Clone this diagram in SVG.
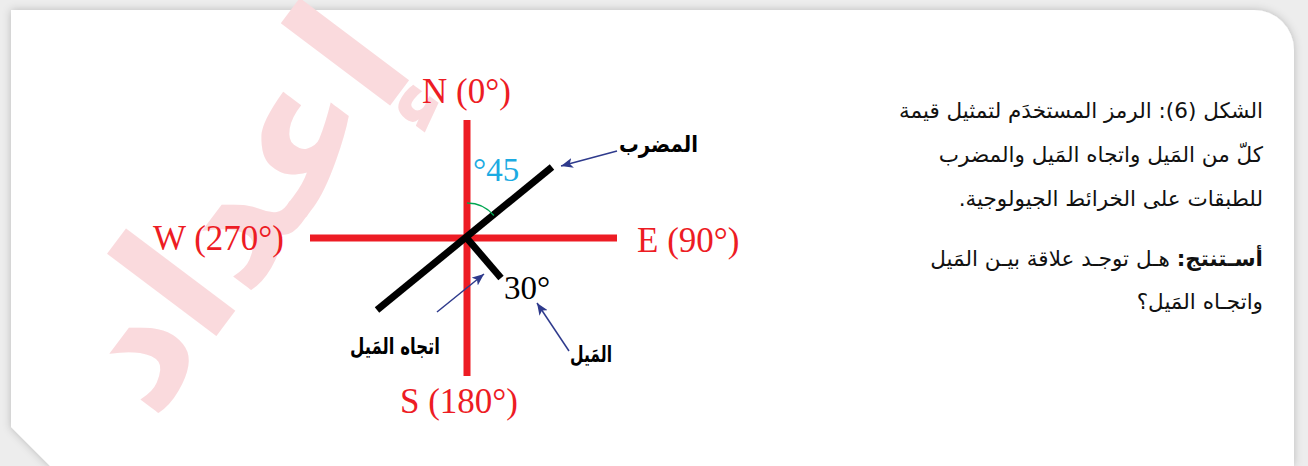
<svg xmlns="http://www.w3.org/2000/svg" width="1308" height="466" viewBox="0 0 1308 466">
  <defs>
    <filter id="shadow" x="-5%" y="-5%" width="110%" height="115%">
      <feDropShadow dx="0" dy="0" stdDeviation="4" flood-color="#000" flood-opacity="0.22"/>
    </filter>
    <marker id="arrow" markerUnits="userSpaceOnUse" markerWidth="14" markerHeight="10" refX="12" refY="5" orient="auto">
      <path d="M0,0 L12,5 L0,10 L3,5 Z" fill="#2e3a8c"/>
    </marker>
    <style>
      .compass { font-family: "Liberation Serif", serif; font-size: 35px; fill: #ed1c24; }
      .axis { stroke: #ed1c24; stroke-width: 7; fill: none; }
      .bar { stroke: #000; stroke-width: 7; fill: none; }
      .lead { stroke: #2e3a8c; stroke-width: 1.5; fill: none; marker-end: url(#arrow); }
      .ar { font-family: "DejaVu Sans", sans-serif; direction: rtl; }
      .lbl { font-family: "DejaVu Sans", sans-serif; font-size: 23px; font-weight: bold; fill: #000; }
      .para { font-family: "DejaVu Sans", sans-serif; font-size: 21.5px; fill: #111; }
    </style>
  </defs>

  <!-- page background and card -->
  <rect x="0" y="0" width="1308" height="466" fill="#ededed"/>
  <path d="M11,10 H1254 A40,40 0 0 1 1294,50 V466 H50 L11,427 Z" fill="#ffffff" filter="url(#shadow)"/>

  <!-- watermark -->
  <text class="ar" transform="translate(285,245) rotate(-53)" text-anchor="middle" font-size="180" font-weight="bold" fill="#fadadd" direction="rtl">إعداد</text>

  <!-- compass axes -->
  <g id="axes">
    <line class="axis" x1="467" y1="120" x2="467" y2="376"/>
    <line class="axis" x1="310" y1="238" x2="617" y2="238"/>
  </g>

  <g id="label-n"><text class="compass" x="422" y="103">N (0°)</text></g>
  <g id="label-e"><text class="compass" x="637" y="252">E (90°)</text></g>
  <g id="label-w"><text class="compass" x="153" y="250">W (270°)</text></g>
  <g id="label-s"><text class="compass" x="400" y="413">S (180°)</text></g>

  <!-- strike and dip symbol -->
  <g id="symbol">
    <line class="bar" x1="377" y1="310" x2="552" y2="167"/>
    <line class="bar" x1="465" y1="236" x2="501" y2="278"/>
    <path d="M467,203 A35,35 0 0 1 493.9,215.5" fill="none" stroke="#00a651" stroke-width="1.4"/>
  </g>

  <g id="angle-45"><text x="473" y="181" font-family="Liberation Serif, serif" font-size="33" fill="#1cabe2">°45</text></g>
  <g id="angle-30"><text x="504" y="299" font-family="Liberation Serif, serif" font-size="33" fill="#000">30°</text></g>

  <!-- connectors -->
  <g id="connectors">
    <line class="lead" x1="617" y1="151" x2="561" y2="166"/>
    <line class="lead" x1="437" y1="312" x2="484" y2="274"/>
    <line class="lead" x1="569" y1="351" x2="537" y2="303"/>
  </g>

  <g id="label-strike"><text class="lbl" x="698" y="152" direction="rtl" text-anchor="start" textLength="79" lengthAdjust="spacingAndGlyphs">المضرب</text></g>
  <g id="label-dipdir"><text class="lbl" x="440" y="354" direction="rtl" text-anchor="start" textLength="90" lengthAdjust="spacingAndGlyphs">اتجاه المَيل</text></g>
  <g id="label-dip"><text class="lbl" x="612" y="362" direction="rtl" text-anchor="start" textLength="42" lengthAdjust="spacingAndGlyphs">المَيل</text></g>

  <!-- caption -->
  <g id="caption">
    <text class="para" x="1263" y="118" direction="rtl" text-anchor="start">الشكل (6): الرمز المستخدَم لتمثيل قيمة</text>
    <text class="para" x="1263" y="162" direction="rtl" text-anchor="start">كلّ من المَيل واتجاه المَيل والمضرب</text>
    <text class="para" x="1263" y="206" direction="rtl" text-anchor="start">للطبقات على الخرائط الجيولوجية.</text>
    <text class="para" x="1263" y="266" direction="rtl" text-anchor="start"><tspan font-weight="bold">أسـتنتج:</tspan> هـل توجـد علاقة بيـن المَيل</text>
    <text class="para" x="1263" y="309" direction="rtl" text-anchor="start">واتجـاه المَيل؟</text>
  </g>
</svg>
